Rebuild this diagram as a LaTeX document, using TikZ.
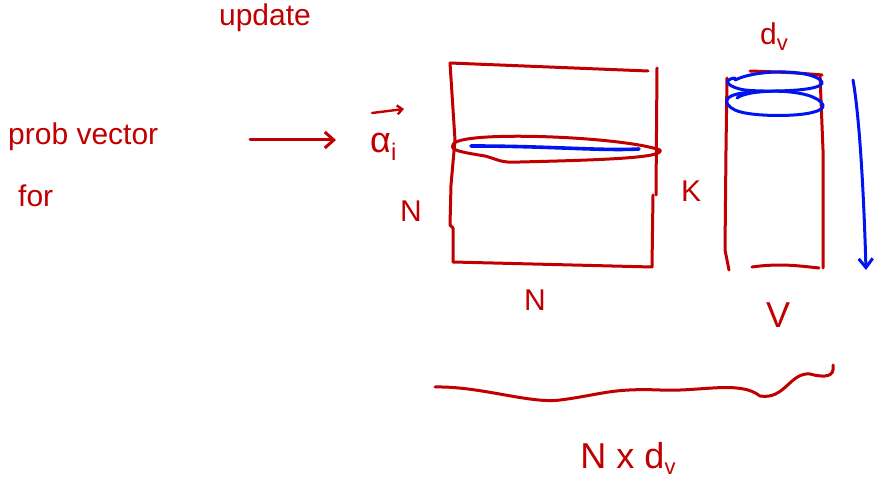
\documentclass[tikz,border=0pt]{standalone}
\usepackage{fontspec}
\setmainfont{Liberation Sans}
\usetikzlibrary{arrows.meta}
\definecolor{ink}{RGB}{192,0,0}
\definecolor{blueink}{RGB}{0,20,240}
\tikzset{
  pen/.style={draw=ink, line width=3pt, line cap=round, line join=round},
  bluepen/.style={draw=blueink, line width=3pt, line cap=round, line join=round},
  lbl/.style={text=ink, font=\fontsize{30}{32}\selectfont, inner sep=0pt},
  biglbl/.style={text=ink, font=\fontsize{36}{38}\selectfont, inner sep=0pt},
}
\newcommand{\subv}{\raisebox{-0.18em}{\fontsize{22}{24}\selectfont v}}
\begin{document}
\begin{tikzpicture}[x=1pt,y=-1pt]
\useasboundingbox (0,0) rectangle (879,481);
% texts
\node[lbl, anchor=base] (upd) at (265,26) {update};
\node[lbl, anchor=base west] (prob) at (8,145) {prob vector};
\node[lbl, anchor=base west] (for) at (18,207) {for};
\node[biglbl, anchor=base west] (alpha) at (370,153) {α\raisebox{-0.2em}{\fontsize{24}{26}\selectfont i}};
\coordinate (va1) at (372,113);
\coordinate (va2) at (404,109);
\draw[pen, line width=2.4pt, -{Straight Barb[length=5pt,width=9pt]}] (va1) -- (va2);
\node[lbl, anchor=base] (nleft) at (411,222) {N};
\node[lbl, anchor=base] (kk) at (691,202) {K};
\node[lbl, anchor=base] (nbot) at (535,311) {N};
\node[lbl, anchor=base] (dv) at (774,45) {d\subv};
\node[biglbl, anchor=base] (vv) at (778,327) {V};
\node[biglbl, anchor=base] (ndv) at (628,468) {N x d\subv};
% arrow
\coordinate (a1) at (250,140);
\coordinate (a2) at (336,140);
\draw[pen, -{Straight Barb[length=9pt,width=16pt]}] (a1) -- (a2);
% matrix (big)
\draw[pen] (450,63) -- (648,71);
\draw[pen] (657,68) -- (656,195);
\draw[pen] (653,195) -- (652,267) -- (453,262);
\draw[pen] (450,63) -- (455,140) -- (451,185) -- (450,225) -- (453,228) -- (453,262);
% row ellipse
\coordinate (r1) at (453,145);
\draw[pen] (r1) .. controls (455,130) and (620,136) .. (660,150)
  .. controls (665,158) and (600,160) .. (520,162)
  .. controls (500,163) and (500,160) .. (485,156)
  .. controls (460,152) and (450,150) .. (r1);
\coordinate (b1) at (471,146);
\coordinate (b2) at (639,149);
\draw[bluepen, line width=3.6pt] (b1) .. controls (550,146) and (600,151) .. (b2);
% tall matrix
\draw[pen] (727,78) -- (726,150) -- (725,250) -- (729,270);
\draw[pen] (752,267) .. controls (780,263) and (800,266) .. (819,268);
\draw[pen] (820,75) -- (823,150) -- (823,268);
\draw[pen] (750,71) .. controls (780,72) and (800,73) .. (822,75);
% blue loops
\draw[bluepen] (735,80) .. controls (760,68) and (815,70) .. (822,82)
  .. controls (825,92) and (760,92) .. (745,90)
  .. controls (730,88) and (720,80) .. (735,78);
\draw[bluepen] (737,98) .. controls (750,88) and (815,88) .. (823,105)
  .. controls (826,118) and (750,118) .. (735,110)
  .. controls (722,104) and (720,92) .. (760,92);
% blue down arrow
\coordinate (d1) at (853,80);
\coordinate (d2) at (866,270);
\draw[bluepen, -{Straight Barb[length=9pt,width=14pt]}] (d1) .. controls (860,120) and (864,200) .. (d2);
% wavy brace
\coordinate (w1) at (435,387);
\coordinate (w2) at (833,365);
\draw[pen] (w1) .. controls (480,386) and (530,404) .. (560,400)
  .. controls (600,395) and (610,388) .. (660,390)
  .. controls (700,392) and (740,380) .. (760,396)
  .. controls (785,400) and (790,372) .. (810,374)
  .. controls (825,378) and (835,377) .. (w2);
\end{tikzpicture}
\end{document}
